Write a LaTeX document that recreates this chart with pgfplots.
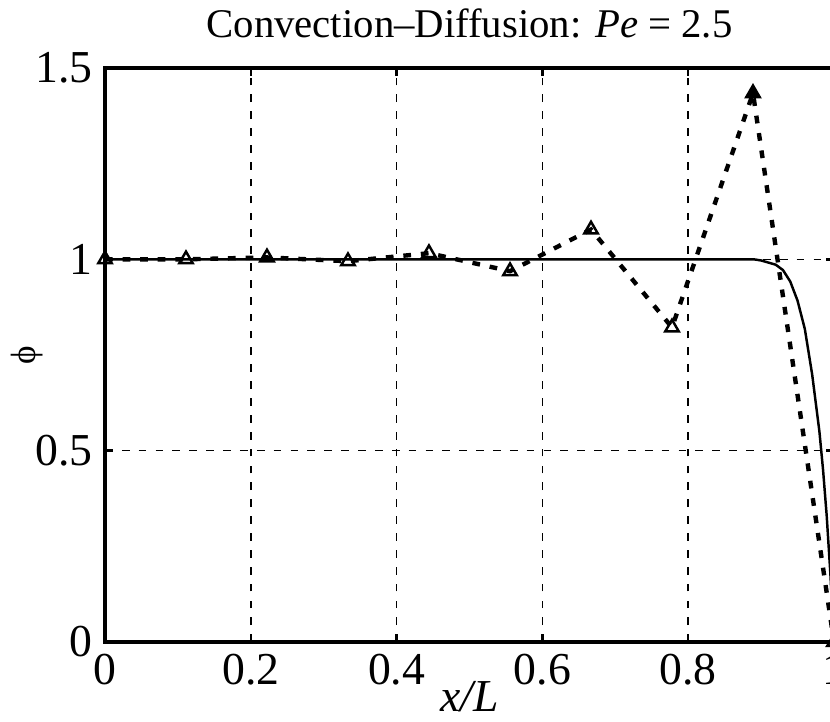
\documentclass[border=0pt]{standalone}
\usepackage{fontspec}
\setmainfont{Liberation Serif}
\usepackage{pgfplots}
\pgfplotsset{compat=1.18}
\usetikzlibrary{calc}

\begin{document}
\begin{tikzpicture}
\begin{axis}[
  scale only axis, width=7.29cm, height=5.74cm,
  xmin=0, xmax=1, ymin=0, ymax=1.5,
  xtick={0,0.2,0.4,0.6,0.8,1}, ytick={0,0.5,1,1.5},
  grid=major,
  major grid style={black, line width=0.45pt, dash pattern=on 2.2pt off 2.6pt},
  axis line style={line width=0.9pt},
  tick style={black, line width=0.7pt}, tick align=inside, major tick length=2.4pt,
  tick label style={font=\fontsize{13}{15}\selectfont},
  /pgf/number format/assume math mode=true,
  title={Convection–Diffusion: \textit{Pe} = 2.5},
  title style={font=\fontsize{11.6}{14}\selectfont, yshift=-1pt},
  xlabel={\textit{x/L}},
  xlabel style={font=\fontsize{13}{15}\selectfont, yshift=8pt},
  ylabel={ϕ},
  ylabel style={at={(axis description cs:-0.107,0.5)}, anchor=center, font=\normalsize},
]
\coordinate (bl) at (rel axis cs:0,0);
% exact solution
\addplot[black, line width=0.7pt] coordinates {
  (0,1) (0.89,1) (0.9,0.997) (0.92,0.986) (0.93,0.972) (0.94,0.942) (0.95,0.892)
  (0.96,0.818) (0.97,0.70) (0.98,0.55) (0.985,0.45) (0.99,0.33) (0.995,0.18) (1,0)};
% numerical solution, 9 cells
\addplot[black, line width=1.25pt, dash pattern=on 2.2pt off 2.8pt,
  mark=triangle, mark size=2.2pt, mark options={solid, line width=0.7pt, fill=none}] coordinates {
  (0,1.0) (0.1111,1.0) (0.2222,1.005) (0.3333,0.995) (0.4444,1.016)
  (0.5556,0.969) (0.6667,1.078) (0.7778,0.822) (0.8889,1.434) (1,0)};
\addplot[only marks, mark=triangle*, mark size=2.2pt, fill=black] coordinates {(0.8889,1.434)};
\end{axis}
\pgfresetboundingbox
\path[use as bounding box] ($(bl)+(-1.05,-0.80)$) rectangle ($(bl)+(7.25,6.42)$);
\end{tikzpicture}
\end{document}
